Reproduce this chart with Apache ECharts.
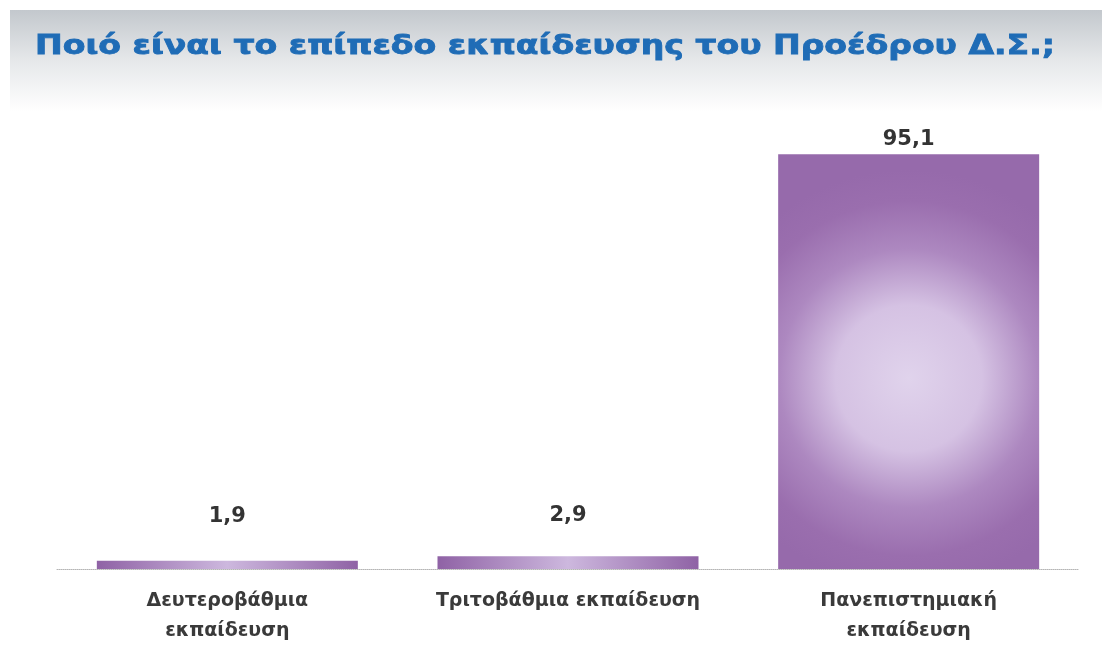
<!DOCTYPE html>
<html>
<head>
<meta charset="utf-8">
<script src="https://cdn.jsdelivr.net/npm/echarts@6/dist/echarts.min.js"></script>
<style>
html,body{margin:0;padding:0;background:#fff;}
#chart{width:1102px;height:653px;}
</style>
</head>
<body>
<div id="chart"></div>
<script>
const titleText = 'Ποιό είναι το επίπεδο εκπαίδευσης του Προέδρου Δ.Σ.;';
const categories = ['Δευτεροβάθμια\nεκπαίδευση', 'Τριτοβάθμια εκπαίδευση', 'Πανεπιστημιακή\nεκπαίδευση'];
const values = [1.9, 2.9, 95.1];

const labelGap = [34, 30, 4];

// measure title for horizontal stretch
const titleFont = 'bold 26px "DejaVu Sans"';
const cv = document.createElement('canvas').getContext('2d');
cv.font = titleFont;
const tw = cv.measureText(titleText).width;
const titleScale = 1020 / tw;

const radial = {
  type: 'radial', x: 0.5, y: 0.54, r: 0.8,
  colorStops: [
    {offset: 0, color: '#e0d3ec'},
    {offset: 0.35, color: '#d5c2e3'},
    {offset: 0.62, color: '#ad88c0'},
    {offset: 0.85, color: '#9a6eae'},
    {offset: 1, color: '#966aab'}
  ]
};
const linear = {
  type: 'linear', x: 0, y: 0, x2: 1, y2: 0,
  colorStops: [
    {offset: 0, color: '#8f62a5'},
    {offset: 0.5, color: '#cdb8de'},
    {offset: 1, color: '#8f62a5'}
  ]
};

const seriesData = values.map((v, i) => ({
  value: v,
  itemStyle: {color: v > 20 ? radial : linear},
  label: {distance: labelGap[i]}
}));

const chart = echarts.init(document.getElementById('chart'), null, {renderer: 'canvas'});
chart.setOption({
  animation: false,
  backgroundColor: '#ffffff',
  graphic: [
    {
      type: 'rect', left: 10, top: 10, z: -10,
      shape: {width: 1092, height: 102},
      style: {fill: {type: 'linear', x: 0, y: 0, x2: 0, y2: 1, colorStops: [
        {offset: 0, color: '#c3c8cd'}, {offset: 0.5, color: '#e6e8ea'}, {offset: 1, color: '#ffffff'}]}}
    },
    {
      type: 'text', x: 35, y: 47, scaleX: titleScale,
      style: {text: titleText, font: titleFont, fill: '#1f6cb6', stroke: '#1f6cb6', lineWidth: 0.8,
        textVerticalAlign: 'middle', textAlign: 'left'}
    }
  ],
  grid: {left: 57, right: 23, top: 133, bottom: 84},
  xAxis: {
    type: 'category',
    data: categories,
    axisLine: {lineStyle: {color: '#b5b5b5', type: 'dotted', width: 1}},
    axisTick: {length: 8, lineStyle: {color: '#b5b5b5', type: 'dotted'}},
    axisLabel: {
      interval: 0, margin: 17, lineHeight: 30,
      fontFamily: 'DejaVu Sans', fontWeight: 'bold', fontSize: 19, color: '#3a3a3a'
    }
  },
  yAxis: {type: 'value', min: 0, max: 100, show: false, splitLine: {show: false}},
  series: [{
    type: 'bar',
    data: seriesData,
    barWidth: 261,
    label: {
      show: true, position: 'top',
      fontFamily: 'DejaVu Sans', fontWeight: 'bold', fontSize: 21, color: '#333',
      formatter: p => String(p.value).replace('.', ',')
    }
  }]
});
</script>
</body>
</html>
